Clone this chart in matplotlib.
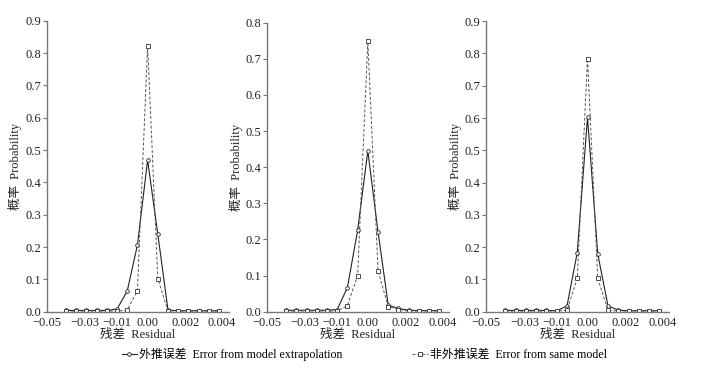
import matplotlib
matplotlib.use("Agg")
import matplotlib.pyplot as plt
import numpy as np

plt.rcParams['font.family'] = ['Liberation Serif', 'Noto Sans CJK SC']
plt.rcParams['axes.unicode_minus'] = True

# bin index 0..15 (categorical residual bins)
bins = list(range(16))
xtick_labels = ["\u22120.05", "\u22120.03", "\u22120.01", "0.00", "0.002", "0.004"]
xtick_pos = [-1.9, 1.85, 5.0, 8.0, 11.75, 15.3]

extrap_1 = [0.004, 0.004, 0.004, 0.004, 0.004, 0.008, 0.064, 0.206, 0.469, 0.240, 0.005, 0.003, 0.003, 0.003, 0.003, 0.003]
same_1   = [0.002, 0.002, 0.002, 0.002, 0.002, 0.002, 0.005, 0.065, 0.823, 0.102, 0.003, 0.002, 0.002, 0.002, 0.002, 0.002]

extrap_2 = [0.004, 0.004, 0.004, 0.004, 0.004, 0.006, 0.067, 0.225, 0.445, 0.221, 0.018, 0.009, 0.004, 0.003, 0.003, 0.003]
same_2   = [0.002, 0.002, 0.002, 0.002, 0.002, 0.002, 0.017, 0.100, 0.748, 0.113, 0.014, 0.006, 0.002, 0.002, 0.002, 0.002]

extrap_3 = [0.004, 0.004, 0.004, 0.004, 0.004, 0.003, 0.018, 0.183, 0.602, 0.179, 0.018, 0.005, 0.003, 0.003, 0.003, 0.003]
same_3   = [0.002, 0.002, 0.002, 0.002, 0.002, 0.002, 0.005, 0.103, 0.784, 0.103, 0.005, 0.002, 0.002, 0.002, 0.002, 0.002]

ymax = [0.9, 0.8, 0.9]
label_extrap = "外推误差  Error from model extrapolation"
label_same = "非外推误差  Error from same model"

fig = plt.figure(figsize=(7.06, 3.71), dpi=100)
positions = [
    [0.0661, 0.1598, 0.2578, 0.784],
    [0.3778, 0.1598, 0.2582, 0.779],
    [0.6884, 0.1598, 0.2592, 0.783],
]
data = [(extrap_1, same_1), (extrap_2, same_2), (extrap_3, same_3)]

handles = None
for i, (pos, (ex, sm)) in enumerate(zip(positions, data)):
    ax = fig.add_axes(pos)
    l1, = ax.plot(bins, ex, color='#222222', lw=0.8, ls='-', marker='o', ms=2.6,
                  mfc='white', mec='#222222', mew=0.6)
    l2, = ax.plot(bins, sm, color='#555555', lw=0.7, ls=(0, (3, 2)), marker='s', ms=2.6,
                  mfc='white', mec='#333333', mew=0.6)
    if handles is None:
        handles = [l1, l2]
    ax.set_xlim(-1.9, 15.95)
    ax.set_ylim(0, ymax[i])
    ticks = np.round(np.arange(0, ymax[i] + 0.001, 0.1), 1)
    ax.set_yticks(ticks)
    ax.set_yticklabels([f"{v:.1f}" for v in ticks])
    ax.set_xticks(xtick_pos)
    ax.set_xticklabels(xtick_labels)
    ax.tick_params(axis='x', length=0, pad=4, labelsize=9, colors='#222222')
    ax.tick_params(axis='y', length=3, width=0.8, pad=1, labelsize=9, colors='#222222', color='#777777')
    for s in ['top', 'right']:
        ax.spines[s].set_visible(False)
    for s in ['left', 'bottom']:
        ax.spines[s].set_color('#777777')
        ax.spines[s].set_linewidth(1.0)
    ax.set_xlabel("残差  Residual", fontsize=9, labelpad=0, color='#222222')
    ax.set_ylabel("概率  Probability", fontsize=9, labelpad=2, color='#222222')

fig.legend(handles, [label_extrap, label_same], loc='center', bbox_to_anchor=(0.516, 0.045),
           ncol=2, frameon=False, fontsize=8.6, handlelength=1.3, handletextpad=0.2,
           columnspacing=5.8)

fig.savefig("out.png", dpi=100)
